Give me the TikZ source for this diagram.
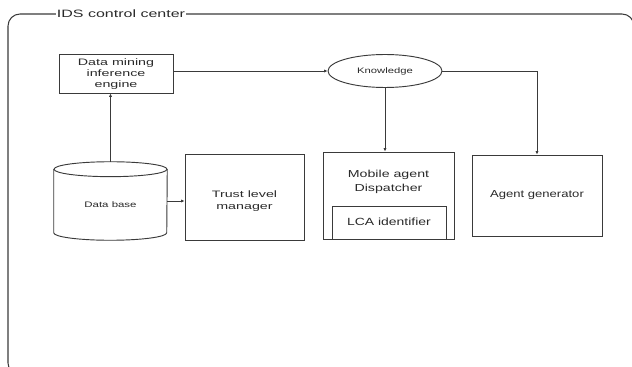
\documentclass[tikz,border=0pt]{standalone}
\usepackage{fontspec}
\usepackage{graphicx}
\setmainfont{Liberation Sans}
\usetikzlibrary{arrows.meta,shapes.geometric}
\definecolor{ln}{HTML}{3A3A3A}
\definecolor{tx}{HTML}{2A2A2A}
\newcommand{\sx}[2]{\scalebox{#1}[1]{#2}}
\tikzset{
  boxnode/.style={draw=ln, line width=0.7pt, inner sep=0pt},
  txt/.style 2 args={text=tx, align=center, inner sep=0pt, font=\fontsize{#1}{#2}\selectfont},
  arr/.style={draw=ln, line width=0.7pt, -{Latex[length=2.6pt,width=2.4pt]}},
}
\begin{document}
\begin{tikzpicture}[x=0.75pt,y=-0.75pt]
\useasboundingbox (0,0) rectangle (632,367);
% frame
\begin{scope}
\clip (0,0) rectangle (632,367);
\draw[ln, line width=0.8pt, rounded corners=9pt] (8,14) rectangle (634,375);
\end{scope}
\node[txt={8}{9}, fill=white, inner xsep=0.8pt, inner ysep=1pt] (title) at (121,14) {\sx{1.5}{IDS control center}};
% nodes
\node[boxnode, minimum width=85.5pt, minimum height=29.25pt] (dm) at (116,73.5) {};
\node[txt={7}{8.5}] (dmt) at (116,74) {\sx{1.53}{Data mining}\\\sx{1.53}{inference}\\\sx{1.53}{engine}};
\node[boxnode, ellipse, minimum width=85.5pt, minimum height=24.75pt] (kn) at (385,71) {};
\node[txt={6}{7}] (knt) at (385,71) {\sx{1.41}{Knowledge}};
% database cylinder
\node[minimum width=84.75pt, minimum height=58.5pt, inner sep=0pt] (db) at (110.5,201) {};
\draw[ln, line width=0.7pt, fill=white]
  ([yshift=-5.6pt]db.north west) -- ([yshift=5.6pt]db.south west)
  arc[start angle=180, end angle=360, x radius=42.375pt, y radius=5.6pt]
  -- ([yshift=-5.6pt]db.north east);
\draw[ln, line width=0.7pt] ([yshift=-5.6pt]db.north) ellipse[x radius=42.375pt, y radius=5.6pt];
\node[txt={6}{7}] (dbt) at (110.5,205) {\sx{1.43}{Data base}};
\node[boxnode, minimum width=89.25pt, minimum height=64.5pt] (tlm) at (244.5,197.5) {};
\node[txt={7}{8.75}] (tlmt) at (244.5,201) {\sx{1.53}{Trust level}\\\sx{1.53}{manager}};
\node[boxnode, minimum width=98.25pt, minimum height=65.25pt] (mad) at (388.5,195.5) {};
\node[txt={7.6}{10}] (madt) at (388.5,182) {\sx{1.4}{Mobile agent}\\\sx{1.4}{Dispatcher}};
\node[boxnode, minimum width=85.5pt, minimum height=24.75pt] (lca) at (389,222.5) {};
\node[txt={7.8}{9}] (lcat) at (389,222) {\sx{1.34}{LCA identifier}};
\node[boxnode, minimum width=97.5pt, minimum height=60.75pt] (ag) at (537,195.5) {};
\node[txt={7.6}{9}] (agt) at (537,195) {\sx{1.29}{Agent generator}};
% connectors
\draw[arr] (db.north) -- (db.north |- dm.south);
\draw[arr] (db.east) -- (db.east -| tlm.west);
\draw[arr] (dm.east |- kn.west) -- (kn.west);
\draw[arr] (kn.south) -- (kn.south |- mad.north);
\draw[arr] (kn.east) -| (ag.north);
\end{tikzpicture}
\end{document}
